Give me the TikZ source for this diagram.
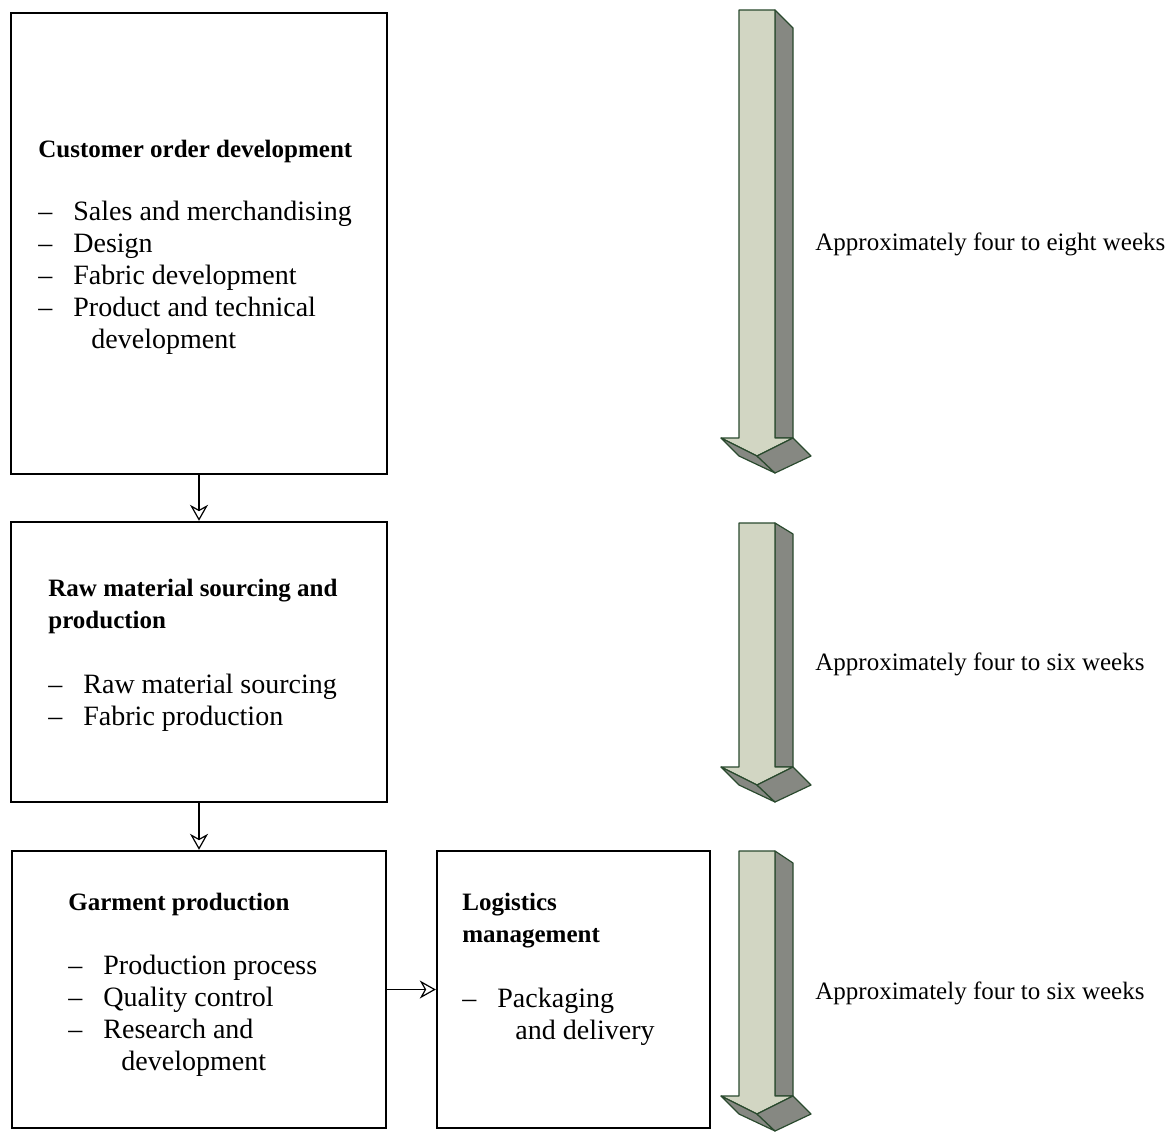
\documentclass[tikz,border=0pt]{standalone}
\usepackage{fontspec}
\setmainfont{Liberation Serif}
\usetikzlibrary{arrows.meta,positioning}
\definecolor{shaftlight}{RGB}{210,214,195}
\definecolor{shaftdark}{RGB}{134,136,130}
\definecolor{shaftedge}{RGB}{42,74,46}
\newcommand{\stagehead}[1]{{\fontsize{12.5}{16}\selectfont\bfseries #1}}
\newcommand{\stageitem}[1]{\makebox[17.5pt][l]{--}#1}
\newcommand{\stagecont}[1]{\hspace*{26.5pt}#1}
% 3D time arrow: #1 top, #2 drop of side face, #3 shoulder
\newcommand{\timearrow}[3]{%
  \filldraw[shaftarrow,fill=shaftdark] (775,#1) -- (793,#1+#2) -- (793,#3) -- (775,#3) -- cycle;
  \filldraw[shaftarrow,fill=shaftlight] (739,#1) -- (775,#1) -- (775,#3) -- (793,#3)
    -- (757,#3+18) -- (721,#3) -- (739,#3) -- cycle;
  \filldraw[shaftarrow,fill=shaftdark] (721,#3) -- (757,#3+18) -- (775,#3+35) -- (739,#3+18) -- cycle;
  \filldraw[shaftarrow,fill=shaftdark] (793,#3) -- (811,#3+18) -- (775,#3+35) -- (757,#3+18) -- cycle;
}
\begin{document}
\begin{tikzpicture}[x=0.5pt,y=-0.5pt,
    stagebox/.style={draw,rectangle,line width=1.2pt,inner sep=0pt},
    stagetext/.style={inner sep=0pt,align=left,font=\fontsize{14}{16}\selectfont},
    spanlabel/.style={inner sep=0pt,anchor=base west,font=\fontsize{12.5}{16}\selectfont},
    shaftarrow/.style={draw=shaftedge,line width=0.6pt,line join=round},
    flow/.style={-{Stealth[open,length=8pt,width=9pt,inset=2.5pt]},line width=0.6pt}]
  \useasboundingbox (0,0) rectangle (1170,1134);
  %%
  \node (order) at (199,243.5) [stagebox,minimum width=188pt,minimum height=230.5pt] {};
  \node (sourcing) at (199,662) [stagebox,minimum width=188pt,minimum height=140pt] {};
  \node (garment) at (199,989.5) [stagebox,minimum width=187pt,minimum height=138.5pt] {};
  \node (logistics) at (573.5,989.5) [stagebox,minimum width=136.5pt,minimum height=138.5pt] {};
  % text blocks, placed by the baseline of their last line
  \node (order-text) at (38,348) [stagetext,anchor=base west] {\stagehead{Customer order development}\\[15.5pt]
    \stageitem{Sales and merchandising}\\
    \stageitem{Design}\\
    \stageitem{Fabric development}\\
    \stageitem{Product and technical}\\
    \stagecont{development}};
  \node (sourcing-text) at (48,725) [stagetext,anchor=base west] {\stagehead{Raw material sourcing and}\\
    \stagehead{production}\\[16.5pt]
    \stageitem{Raw material sourcing}\\
    \stageitem{Fabric production}};
  \node (garment-text) at (68,1070) [stagetext,anchor=base west] {\stagehead{Garment production}\\[16pt]
    \stageitem{Production process}\\
    \stageitem{Quality control}\\
    \stageitem{Research and}\\
    \stagecont{development}};
  \node (logistics-text) at (462,1039) [stagetext,anchor=base west] {\stagehead{Logistics}\\
    \stagehead{management}\\[16.5pt]
    \stageitem{Packaging}\\
    \stagecont{and delivery}};
  %
  \draw [flow] (order) -- (sourcing);
  \draw [flow] (sourcing) -- (garment);
  \draw [flow] (garment) -- (logistics);
  %
  \timearrow{10}{18}{438}
  \timearrow{523}{11}{767}
  \timearrow{851}{12}{1096}
  \node (span1) at (815,250) [spanlabel] {Approximately four to eight weeks};
  \node (span2) at (815,670) [spanlabel] {Approximately four to six weeks};
  \node (span3) at (815,999) [spanlabel] {Approximately four to six weeks};
  %
\end{tikzpicture}
\end{document}
